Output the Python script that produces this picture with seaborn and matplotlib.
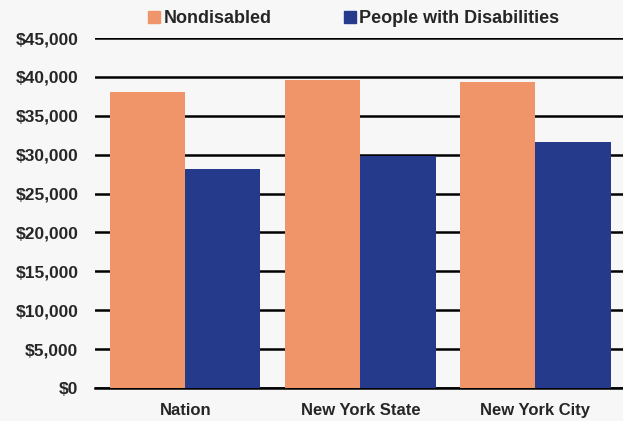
import pandas as pd
import matplotlib.pyplot as plt
import seaborn as sns
from matplotlib.ticker import FuncFormatter

# data (median earnings)
regions = ['Nation', 'New York State', 'New York City']
nondisabled = [38000, 39600, 39400]
disabled = [28100, 29800, 31600]
groups = ['Nondisabled', 'People with Disabilities']
colors = ['#F0956A', '#263A8C']

df = pd.DataFrame({
    'region': regions * 2,
    'group': [groups[0]] * 3 + [groups[1]] * 3,
    'earnings': nondisabled + disabled,
})

sns.set_style('white')
plt.rcParams['font.family'] = ['Liberation Sans', 'DejaVu Sans']

fig = plt.figure(figsize=(6.23, 4.21), dpi=100, facecolor='#F7F7F7')
ax = fig.add_axes([0.1525, 0.0784, 0.8475, 0.8313])
ax.set_facecolor('#F7F7F7')

sns.barplot(data=df, x='region', y='earnings', hue='group', palette=colors,
            width=0.86, gap=0.0, saturation=1, linewidth=0, ax=ax,
            legend=False, zorder=3)

ax.set_ylim(0, 45000)
ax.set_xlim(-0.515, 2.5)
ax.set_yticks(range(0, 45001, 5000))
ax.yaxis.set_major_formatter(FuncFormatter(lambda v, p: f'${v:,.0f}'))
ax.grid(axis='y', color='black', linewidth=1.8, zorder=0)
ax.set_axisbelow(True)
for s in ['left', 'right', 'top']:
    ax.spines[s].set_visible(False)
ax.spines['bottom'].set_color('black')
ax.spines['bottom'].set_linewidth(1.8)
ax.tick_params(axis='y', length=0, pad=12, labelsize=12.5)
ax.tick_params(axis='x', length=0, pad=11, labelsize=12)
for lab in ax.get_yticklabels() + ax.get_xticklabels():
    lab.set_fontweight('bold')
ax.set_xlabel('')
ax.set_ylabel('')

handles = [plt.Rectangle((0, 0), 1, 1, color=c) for c in colors]
fig.legend(handles, groups, loc='upper left', bbox_to_anchor=(0.212, 1.015),
           ncol=2, frameon=False, handlelength=0.65, handleheight=0.65,
           handletextpad=0.2, columnspacing=4.0, prop={'size': 13, 'weight': 'bold'})

fig.savefig('out.png', dpi=100, facecolor=fig.get_facecolor())
